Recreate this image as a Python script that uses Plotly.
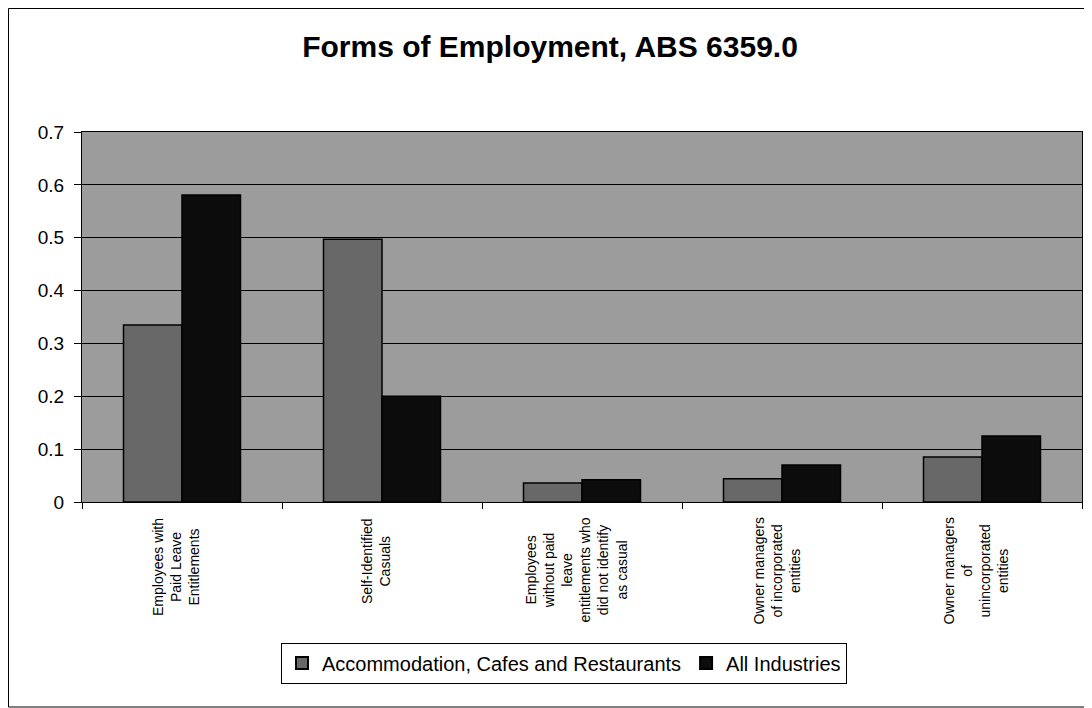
import plotly.graph_objects as go

categories = ["Employees with Paid Leave Entitlements", "Self-Identified Casuals",
              "Employees without paid leave entitlements who did not identify as casual",
              "Owner managers of incorporated entities",
              "Owner managers of unincorporated entities"]
category_labels = ["Employees with<br>Paid Leave<br>Entitlements",
                   "Self-Identified<br>Casuals",
                   "Employees<br>without paid<br>leave<br>entitlements who<br>did not identify<br>as casual",
                   "Owner managers<br>of incorporated<br>entities",
                   "Owner managers<br>of<br>unincorporated<br>entities"]
acr_values = [0.335, 0.497, 0.036, 0.044, 0.085]
all_values = [0.581, 0.200, 0.042, 0.070, 0.125]
series_names = ["Accommodation, Cafes and Restaurants", "All Industries"]
y_ticks = [0, 0.1, 0.2, 0.3, 0.4, 0.5, 0.6, 0.7]
y_tick_text = ["0", "0.1", "0.2", "0.3", "0.4", "0.5", "0.6", "0.7"]

FONT = "Liberation Sans, Arial, sans-serif"
# page has an 8px body margin, so the figure is drawn 8px in from the window edge
W, H = 1084, 700
ML, MR, MT, MB = 74, 10, 124, 206
pw = W - ML - MR
ph = H - MT - MB

fig = go.Figure()
fig.add_trace(go.Bar(x=categories, y=acr_values, name=series_names[0],
                     marker=dict(color="#686868", line=dict(color="#000000", width=1.5))))
fig.add_trace(go.Bar(x=categories, y=all_values, name=series_names[1],
                     marker=dict(color="#0c0c0c", line=dict(color="#000000", width=1.5))))

for cat, lab in zip(categories, category_labels):
    fig.add_annotation(x=cat, y=0, xref="x", yref="y", text=lab, textangle=-90,
                       showarrow=False, xanchor="center", yanchor="top", yshift=-14,
                       xshift=-6, align="center",
                       font=dict(family=FONT, size=14, color="#000000"))

fig.add_shape(type="rect", xref="paper", yref="paper",
              x0=(0.5 - ML) / pw, x1=(W - 1 - ML) / pw,
              y0=-(H - 1 - MT - ph) / ph, y1=(H - 0.5 - MB) / ph,
              line=dict(color="#000000", width=1), fillcolor="rgba(0,0,0,0)", layer="below")

fig.update_layout(
    width=W, height=H,
    margin=dict(l=ML, r=MR, t=MT, b=MB),
    paper_bgcolor="#ffffff",
    plot_bgcolor="#9c9c9c",
    barmode="group",
    bargap=0.415,
    bargroupgap=0.0,
    title=dict(text="<b>Forms of Employment, ABS 6359.0</b>", x=0.5, xanchor="center",
               xref="container", yref="container",
               y=1 - 38 / H, yanchor="middle",
               font=dict(family=FONT, size=30, color="#000000")),
    font=dict(family=FONT, color="#000000"),
    showlegend=True,
    legend=dict(orientation="h", x=0.482, xanchor="center",
                y=-(655 - MT - ph) / ph, yanchor="middle",
                bordercolor="#000000", borderwidth=1, bgcolor="#ffffff",
                font=dict(family=FONT, size=20, color="#000000"),
                itemsizing="constant", traceorder="normal"),
    xaxis=dict(showticklabels=False, ticks="outside", tickson="boundaries", ticklen=6,
               tickcolor="#000000", showline=True, linecolor="#000000", linewidth=1,
               mirror=True, showgrid=False),
    yaxis=dict(range=[0, 0.7], tickvals=y_ticks, ticktext=y_tick_text, ticks="outside",
               ticklen=7, ticklabelstandoff=6, tickcolor="#000000", showline=True,
               linecolor="#000000", linewidth=1, mirror=True, showgrid=True,
               gridcolor="#000000", gridwidth=1, zeroline=False,
               tickfont=dict(family=FONT, size=19, color="#000000")),
)

fig.write_html("out.html")
